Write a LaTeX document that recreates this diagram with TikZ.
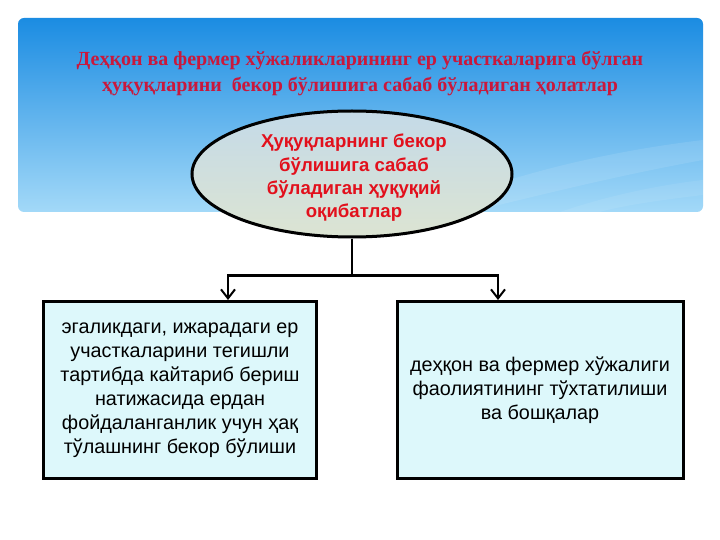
\documentclass[tikz,border=0pt]{standalone}
\usepackage{fontspec}
\setmainfont{Liberation Serif}
\setsansfont{Liberation Sans}
\usetikzlibrary{shapes.geometric,arrows.meta}
\definecolor{bannertop}{HTML}{1B8CE2}
\definecolor{bannerbot}{HTML}{A3D9F8}
\definecolor{titlered}{HTML}{C9183C}
\definecolor{ovalred}{HTML}{E2101C}
\definecolor{ovaltop}{HTML}{C4DAE8}
\definecolor{ovalbot}{HTML}{DCE4D2}
\definecolor{boxfill}{HTML}{DDF8FB}

\begin{document}
\begin{tikzpicture}[x=1pt,y=-1pt]
\tikzset{
  oval/.style={ellipse,draw=black,line width=3pt,minimum width=320pt,minimum height=126pt,
    top color=ovaltop,bottom color=ovalbot},
  ovaltxt/.style={align=center,text=ovalred,font=\sffamily\bfseries\fontsize{18.6}{23.3}\selectfont},
  leaf/.style={draw=black,line width=3pt,fill=boxfill,minimum height=177pt,align=center,
    font=\sffamily\fontsize{19.8}{24}\selectfont},
  link/.style={line width=2.6pt},
  tip/.style={-{Straight Barb[length=9pt,width=14pt,line width=2pt]}}
}
\useasboundingbox (0,0) rectangle (720,540);
\fill[white] (0,0) rectangle (720,540);
\shade[top color=bannertop,bottom color=bannerbot,rounded corners=6pt] (18,18) rectangle (703,212);
\begin{scope}
\clip[rounded corners=6pt] (18,18) rectangle (703,212);
\fill[white,opacity=0.1] (420,212) .. controls (520,170) and (620,150) .. (703,140) -- (703,160) .. controls (620,175) and (540,195) .. (470,212) -- cycle;
\fill[white,opacity=0.08] (560,212) .. controls (610,195) and (660,185) .. (703,180) -- (703,195) .. controls (660,200) and (620,206) .. (600,212) -- cycle;
\end{scope}
\node[align=center,text=titlered,font=\bfseries\fontsize{20}{26}\selectfont] (title) at (360,74)
  {Деҳқон ва фермер хўжаликларининг ер участкаларига бўлган\\ҳуқуқларини \ бекор бўлишига сабаб бўладиган ҳолатлар};
\node[oval] (oval) at (352,174) {};
\node[ovaltxt] (ovaltext) at (354,178)
  {Ҳуқуқларнинг бекор\\бўлишига сабаб\\бўладиган ҳуқуқий\\оқибатлар};
\node[leaf,minimum width=273pt] (left) at (180,390)
  {эгаликдаги, ижарадаги ер\\участкаларини тегишли\\тартибда кайтариб бериш\\натижасида ердан\\фойдаланганлик учун ҳақ\\тўлашнинг бекор бўлиши};
\node[leaf,minimum width=286pt] (right) at (540,390)
  {деҳқон ва фермер хўжалиги\\фаолиятининг тўхтатилиши\\ва бошқалар};
\draw[link] (oval.south) -- ++(0,37) coordinate (split);
\draw[link,tip] (split) -| ([xshift=48pt]left.north);
\draw[link,tip] (split) -| ([xshift=-42pt]right.north);
\end{tikzpicture}
\end{document}
